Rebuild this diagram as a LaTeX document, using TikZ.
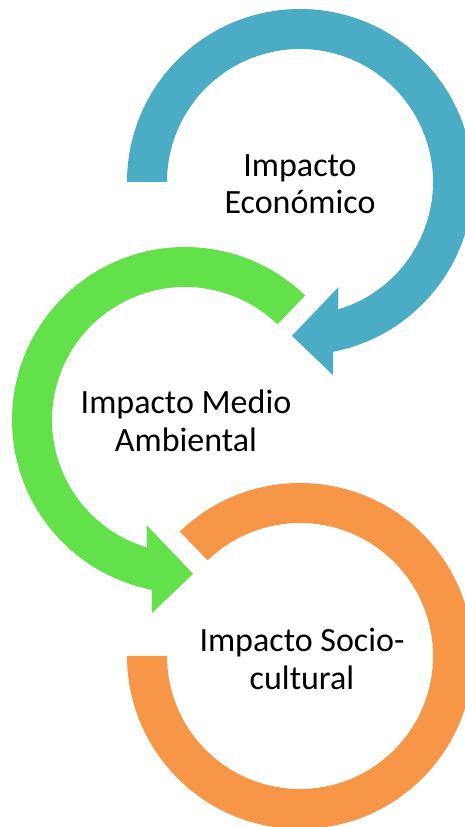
\documentclass[tikz,border=0pt]{standalone}
\usepackage{fontspec}
\setmainfont{Carlito}
\definecolor{ringblue}{HTML}{4BACC6}
\definecolor{ringgreen}{HTML}{62E14A}
\definecolor{ringorange}{HTML}{F79646}
\tikzset{
  label text/.style={align=center, text=black, font=\fontsize{34}{37.5}\selectfont, inner sep=0pt}
}
\begin{document}
\begin{tikzpicture}[x=1pt,y=1pt]
\clip (0,0) rectangle (465,827);
\useasboundingbox (0,0) rectangle (465,827);
\coordinate (bc) at (300,645);
\coordinate (gc) at (185,407);
\coordinate (oc) at (300,171);
% blue arrow (clockwise)
\fill[ringblue] ([shift={(bc)}]180:173pt) arc[start angle=180,end angle=-79,radius=173pt]
  -- ([shift={(bc)}]-80.3:196pt) -- ([shift={(bc)}]-93:154pt) -- ([shift={(bc)}]-70:112pt)
  -- ([shift={(bc)}]-73.3:133pt) arc[start angle=-73.3,end angle=180,radius=133pt] -- cycle;
% green arrow (counter-clockwise)
\fill[ringgreen] ([shift={(gc)}]46:173pt) arc[start angle=46,end angle=259,radius=173pt]
  -- ([shift={(gc)}]260.3:196pt) -- ([shift={(gc)}]273:154pt) -- ([shift={(gc)}]250:112pt)
  -- ([shift={(gc)}]253.3:133pt) arc[start angle=253.3,end angle=46,radius=133pt] -- cycle;
% orange ring
\fill[ringorange] ([shift={(oc)}]134:173pt) arc[start angle=134,end angle=-180,radius=173pt]
  -- ([shift={(oc)}]180:133pt) arc[start angle=-180,end angle=134,radius=133pt] -- cycle;
\node[label text] (eco) at (300,643) {Impacto\\Económico};
\node[label text] (amb) at (186,406) {Impacto Medio\\Ambiental};
\node[label text] (soc) at (302,168) {Impacto Socio-\\cultural};
\end{tikzpicture}
\end{document}
